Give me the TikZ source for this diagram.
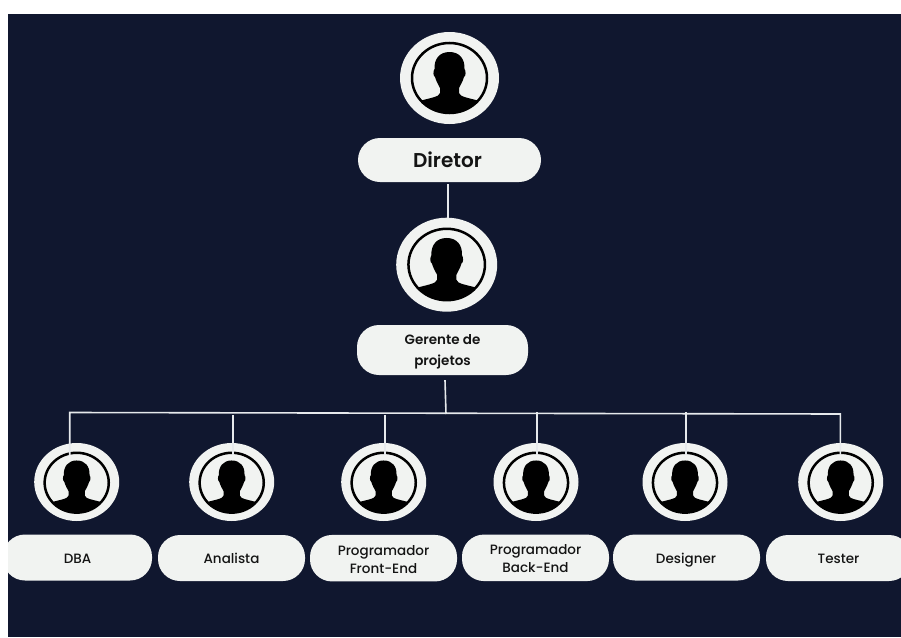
\documentclass[tikz,border=0pt]{standalone}
\usepackage{fontspec}
\setmainfont{Poppins Medium}
\newfontfamily\heavy{Poppins SemiBold}
\usetikzlibrary{shapes.geometric}
\definecolor{navy}{HTML}{10172F}
\definecolor{paper}{HTML}{F1F3F1}
\definecolor{ink}{HTML}{141414}
\definecolor{wire}{HTML}{E6E9EC}
\tikzset{
  pillbox/.style={rectangle,rounded corners=22pt,fill=paper,text=ink,align=center,inner sep=0pt,font=\fontsize{13.5}{18}\selectfont},
  oneline/.style={text height=13.5pt,text depth=2pt},
  bigphoto/.style={ellipse,fill=paper,inner sep=0pt,minimum width=99pt,minimum height=92pt},
  midphoto/.style={ellipse,fill=paper,inner sep=0pt,minimum width=101pt,minimum height=94pt},
  smallphoto/.style={ellipse,fill=paper,inner sep=0pt,minimum width=85pt,minimum height=78pt},
  conn/.style={wire,line width=1.6pt},
  avatar/.pic={
    \begin{scope}
      \clip (0,0) circle [x radius=37.5,y radius=35];
      \fill[black] (0,-26) .. controls (10,-26) and (15.5,-19) .. (15,-9)
        .. controls (16.5,-7) and (16.5,-2) .. (14.5,-1)
        .. controls (13,4) and (11,7) .. (9.5,10)
        -- (9.5,15) .. controls (10,19) and (20,20) .. (30,23)
        -- (30,40) -- (-30,40) -- (-30,23)
        .. controls (-20,20) and (-10,19) .. (-9.5,15)
        -- (-9.5,10) .. controls (-11,7) and (-13,4) .. (-14.5,-1)
        .. controls (-16.5,-2) and (-16.5,-7) .. (-15,-9)
        .. controls (-15.5,-19) and (-10,-26) .. (0,-26) -- cycle;
    \end{scope}
    \draw[black,line width=2.5pt] (0,0) circle [x radius=37.5,y radius=35];
  }
}
\begin{document}
\begin{tikzpicture}[x=1pt,y=-1pt]
\useasboundingbox (0,0) rectangle (901,637);
\fill[white] (0,0) rectangle (901,637);
\begin{scope}
\clip (8,14) rectangle (901,637);
\fill[navy] (8,14) rectangle (901,637);
% pills
\node[pillbox,minimum width=183pt,minimum height=44pt,font=\heavy\fontsize{20}{24}\selectfont] (dirpill) at (449.5,160) {Diretor\hspace{4pt}};
\node[pillbox,minimum width=171pt,minimum height=50pt,font=\heavy\fontsize{13.5}{20.5}\selectfont] (gerpill) at (442.5,350) {\rule{0pt}{14pt}Gerente de\\projetos};
\node[pillbox,oneline,minimum width=149pt,minimum height=46pt] (dba) at (77.5,557.5) {DBA};
\node[pillbox,oneline,minimum width=147pt,minimum height=46pt] (ana) at (231.5,558) {Analista};
\node[pillbox,minimum width=147pt,minimum height=46.5pt] (fro) at (383.5,558.2) {\rule{0pt}{12pt}Programador\\Front-End};
\node[pillbox,minimum width=147pt,minimum height=46.5pt] (bac) at (535.5,557.8) {\rule{0pt}{12pt}Programador\\Back-End};
\node[pillbox,oneline,minimum width=147pt,minimum height=46pt] (des) at (686.5,557.5) {Designer\hspace{1pt}};
\node[pillbox,oneline,minimum width=145pt,minimum height=46pt] (tes) at (838.5,558) {Tester};
% photos
\node[bigphoto] (dirph) at (449.5,78) {};
\node[midphoto] (gerph) at (446.7,264.7) {};
\node[smallphoto] (ph1) at (76.7,482) {};
\node[smallphoto] (ph2) at (231.7,482) {};
\node[smallphoto] (ph3) at (383.7,482) {};
\node[smallphoto] (ph4) at (536,482) {};
\node[smallphoto] (ph5) at (685,482) {};
\node[smallphoto] (ph6) at (840.7,482) {};
\pic at (449.5,78) {avatar};
\pic[scale=1.02] at (446.7,264.5) {avatar};
\pic[scale=.855] at (76.7,482.7) {avatar};
\pic[scale=.855] at (231.7,482.7) {avatar};
\pic[scale=.855] at (383.7,482.7) {avatar};
\pic[scale=.855] at (536,482.7) {avatar};
\pic[scale=.855] at (685,482.7) {avatar};
\pic[scale=.855] at (840.7,482.7) {avatar};
% connectors
\coordinate (busL) at (69.7,412.5);
\coordinate (busR) at (840.3,414);
\coordinate (busM) at (446,414);
\coordinate (tap2) at (232.7,415);
\coordinate (tap3) at (384.7,415);
\coordinate (tap4) at (537,412);
\coordinate (tap5) at (686,412);
\draw[conn] ([xshift=-1.8pt,yshift=-2pt]dirpill.south) -- ([xshift=1pt]gerph.north);
\draw[conn] ([xshift=2.5pt,yshift=-5pt]gerpill.south) -- (busM);
\draw[conn,line join=miter] ([xshift=-7pt,yshift=-12pt]ph1.north) -- (busL) -- (busR) -- ([xshift=-.4pt,yshift=-12pt]ph6.north);
\draw[conn] (tap2) -- ([xshift=1pt,yshift=-12pt]ph2.north);
\draw[conn] (tap3) -- ([xshift=1pt,yshift=-12pt]ph3.north);
\draw[conn] (tap4) -- ([xshift=1pt,yshift=-12pt]ph4.north);
\draw[conn] (tap5) -- ([xshift=1pt,yshift=-12pt]ph5.north);
\end{scope}
\end{tikzpicture}
\end{document}
